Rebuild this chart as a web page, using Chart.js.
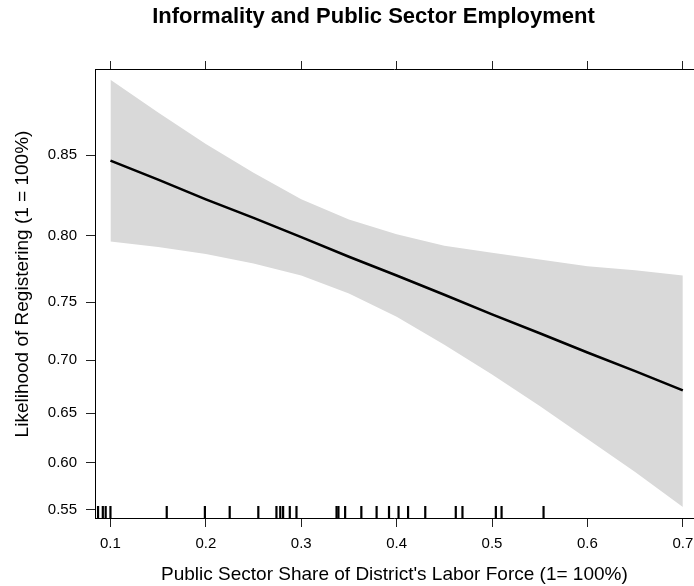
<!DOCTYPE html>
<html>
<head>
<meta charset="utf-8">
<script src="https://cdn.jsdelivr.net/npm/chart.js@4.4.0/dist/chart.umd.min.js"></script>
<style>
  html, body { margin: 0; padding: 0; background: #fff; overflow: hidden; }
  /* the panel's right border falls just past the picture edge, so the canvas is a bit wider and cropped */
  #wrap { width: 694px; height: 586px; overflow: hidden; }
  #chart { display: block; }
</style>
</head>
<body>
<div id="wrap"><canvas id="chart" width="708" height="586"></canvas></div>
<script>
const mainTitle = 'Informality and Public Sector Employment';
const xTitle = "Public Sector Share of District's Labor Force (1= 100%)";
const yTitle = 'Likelihood of Registering (1 = 100%)';

// effect curve and 95% band
const shareGrid = [0.10, 0.15, 0.20, 0.25, 0.30, 0.35, 0.40, 0.45, 0.50, 0.55, 0.60, 0.65, 0.70];
const fitted = [0.847, 0.836, 0.824, 0.812, 0.799, 0.785, 0.771, 0.756, 0.740, 0.724, 0.707, 0.690, 0.672];
const upper = [0.887, 0.872, 0.856, 0.840, 0.824, 0.811, 0.801, 0.793, 0.788, 0.783, 0.778, 0.775, 0.771];
const lower = [0.796, 0.792, 0.787, 0.780, 0.771, 0.757, 0.738, 0.714, 0.687, 0.657, 0.624, 0.590, 0.553];

// rug of observed district shares
const rugShares = [0.087, 0.092, 0.095, 0.100, 0.159, 0.199, 0.225, 0.255, 0.274, 0.278, 0.281, 0.288,
  0.295, 0.337, 0.339, 0.346, 0.363, 0.379, 0.392, 0.402, 0.412, 0.430, 0.462, 0.469, 0.504, 0.510, 0.554];

const xTicks = [0.1, 0.2, 0.3, 0.4, 0.5, 0.6, 0.7];
const yTicks = [0.55, 0.60, 0.65, 0.70, 0.75, 0.80, 0.85];
const xMin = 0.0838, xMax = 0.7115;
const yMin = 0.5412, yMax = 0.8916;

const FONT = '"Liberation Sans", Arial, Helvetica, sans-serif';

const logit = p => Math.log(p / (1 - p));
const invLogit = v => 1 / (1 + Math.exp(-v));

// probability axis spaced on the logit scale
class LogitScale extends Chart.LinearScale {
  getPixelForValue(value) {
    const a = logit(this.min), b = logit(this.max);
    return this.getPixelForDecimal((logit(value) - a) / (b - a));
  }
  getValueForPixel(pixel) {
    const a = logit(this.min), b = logit(this.max);
    return invLogit(a + this.getDecimalForPixel(pixel) * (b - a));
  }
}
LogitScale.id = 'logit';
LogitScale.defaults = Chart.LinearScale.defaults;
Chart.register(LogitScale);

// main title and y title sit a little off the panel centre, as in the original
const titlePlugin = {
  id: 'titles',
  afterDraw(chart) {
    const ctx = chart.ctx;
    ctx.save();
    ctx.fillStyle = '#000';
    ctx.textAlign = 'center';
    ctx.font = 'bold 22px ' + FONT;
    ctx.textBaseline = 'alphabetic';
    ctx.fillText(mainTitle, 373.5, 23);
    ctx.font = '19px ' + FONT;
    ctx.textBaseline = 'middle';
    ctx.translate(22.5, 284);
    ctx.rotate(-Math.PI / 2);
    ctx.fillText(yTitle, 0, 0);
    ctx.restore();
  }
};

const pts = arr => shareGrid.map((x, i) => ({ x: x, y: arr[i] }));

new Chart(document.getElementById('chart'), {
  type: 'line',
  data: {
    datasets: [
      {
        label: 'fit',
        data: pts(fitted),
        borderColor: '#000',
        borderWidth: 2.5,
        pointRadius: 0,
        fill: false,
        order: 0
      },
      {
        type: 'scatter',
        label: 'rug',
        data: rugShares.map(x => ({ x: x, y: yMin })),
        pointStyle: 'line',
        rotation: 90,
        radius: 12,
        borderColor: '#000',
        borderWidth: 2.2,
        clip: 0,
        order: 1
      },
      {
        label: 'lower',
        data: pts(lower),
        borderWidth: 0,
        pointRadius: 0,
        fill: false,
        order: 3
      },
      {
        label: 'upper',
        data: pts(upper),
        borderWidth: 0,
        pointRadius: 0,
        backgroundColor: '#d9d9d9',
        fill: '-1',
        order: 2
      }
    ]
  },
  options: {
    responsive: false,
    animation: false,
    devicePixelRatio: 1,
    layout: { padding: 0 },
    plugins: {
      legend: { display: false },
      tooltip: { enabled: false }
    },
    scales: {
      x: {
        type: 'linear',
        position: 'bottom',
        min: xMin,
        max: xMax,
        afterBuildTicks: s => { s.ticks = xTicks.map(v => ({ value: v })); },
        afterFit: s => { s.height = 68; },
        grid: { display: true, drawOnChartArea: false, tickLength: 9, color: '#222' },
        border: { display: true, color: '#000', width: 1 },
        ticks: {
          color: '#000',
          padding: 8,
          maxRotation: 0,
          font: { family: FONT, size: 15 },
          callback: v => v.toFixed(1)
        },
        title: {
          display: true,
          text: xTitle,
          color: '#000',
          font: { family: FONT, size: 19 },
          padding: { top: 0, bottom: 0 }
        }
      },
      xTop: {
        type: 'linear',
        position: 'top',
        min: xMin,
        max: xMax,
        afterBuildTicks: s => { s.ticks = xTicks.map(v => ({ value: v })); },
        afterFit: s => { s.height = 69; },
        grid: { display: true, drawOnChartArea: false, tickLength: 8, color: '#222' },
        border: { display: true, color: '#000', width: 1 },
        ticks: { display: false }
      },
      y: {
        type: 'logit',
        position: 'left',
        min: yMin,
        max: yMax,
        afterBuildTicks: s => { s.ticks = yTicks.map(v => ({ value: v })); },
        afterFit: s => { s.width = 95; },
        grid: { display: true, drawOnChartArea: false, tickLength: 9, color: '#222' },
        border: { display: true, color: '#000', width: 1 },
        ticks: {
          color: '#000',
          padding: 9,
          font: { family: FONT, size: 15 },
          callback: v => v.toFixed(2)
        },
        title: { display: false }
      }
    }
  },
  plugins: [titlePlugin]
});
</script>
</body>
</html>
